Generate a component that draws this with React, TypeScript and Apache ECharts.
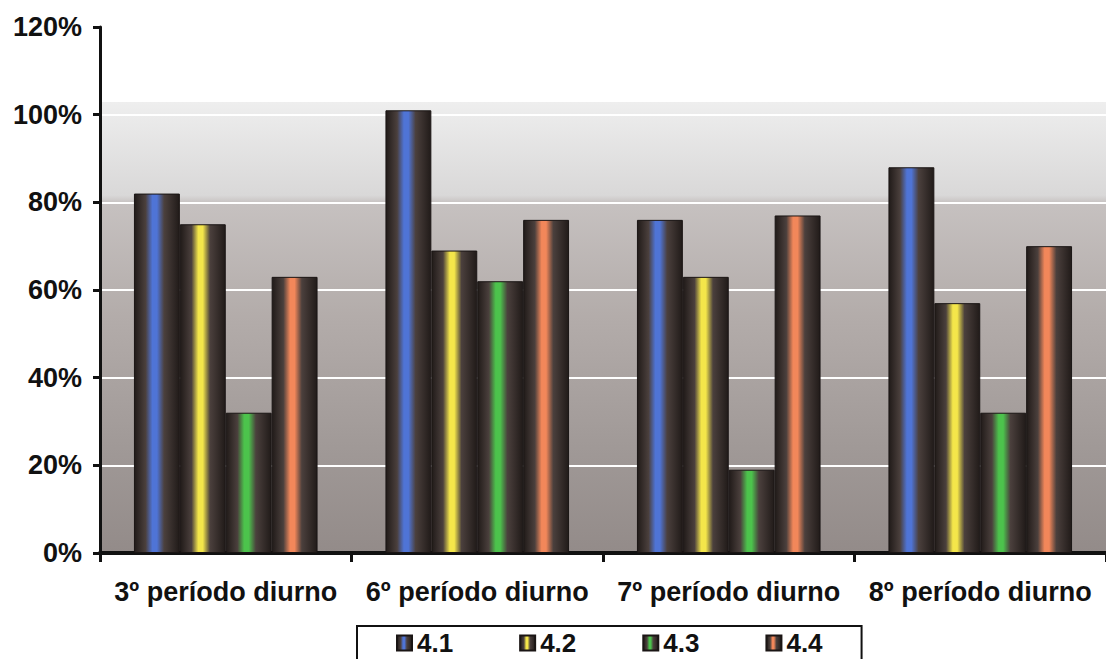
import React, { useEffect, useRef } from "react";
import * as echarts from "echarts";

const categories = ["3º período diurno", "6º período diurno", "7º período diurno", "8º período diurno"];
const seriesNames = ["4.1", "4.2", "4.3", "4.4"];
const values41 = [82, 101, 76, 88];
const values42 = [75, 69, 63, 57];
const values43 = [32, 62, 19, 32];
const values44 = [63, 76, 77, 70];
const centerColors = ["#4f74d6", "#f4e64a", "#4cc34c", "#f2875a"];
const yTicks = [0, 20, 40, 60, 80, 100, 120];

const EDGE = "#211b19";
const MID = "#4b403d";

function cylinder(color: string) {
  return new echarts.graphic.LinearGradient(0, 0, 1, 0, [
    { offset: 0, color: EDGE },
    { offset: 0.25, color: MID },
    { offset: 0.4, color: color },
    { offset: 0.5, color: color },
    { offset: 0.66, color: MID },
    { offset: 1, color: EDGE },
  ]);
}

const FONT = "Liberation Sans, Arial, sans-serif";

export default function App() {
  const ref = useRef<HTMLDivElement>(null);

  useEffect(() => {
    document.body.style.margin = "0";
    const chart = echarts.init(ref.current!, undefined, { renderer: "svg" });
    const data = [values41, values42, values43, values44];
    const yMax = yTicks[yTicks.length - 1];
    const shadeTop = (yMax - 103) / yMax;

    chart.setOption({
      animation: false,
      backgroundColor: "#ffffff",
      textStyle: { fontFamily: FONT },
      grid: {
        left: 100,
        right: -10,
        top: 27,
        bottom: 106,
        show: true,
        borderWidth: 0,
        backgroundColor: new echarts.graphic.LinearGradient(0, 0, 0, 1, [
          { offset: 0, color: "#ffffff" },
          { offset: shadeTop, color: "#ffffff" },
          { offset: shadeTop + 0.001, color: "#eeeeee" },
          { offset: 0.32, color: "#d9d8d8" },
          { offset: 0.335, color: "#c6c1c0" },
          { offset: 0.55, color: "#b3acaa" },
          { offset: 0.8, color: "#a09997" },
          { offset: 1, color: "#938b89" },
        ]),
      },
      legend: {
        data: seriesNames,
        icon: "rect",
        left: 357,
        top: 626,
        orient: "horizontal",
        itemWidth: 15,
        itemHeight: 15,
        itemGap: 66,
        padding: [4, 39, 8, 39],
        borderColor: "#111",
        borderWidth: 2,
        backgroundColor: "#ffffff",
        textStyle: {
          fontSize: 26,
          fontWeight: "bold",
          color: "#111",
          fontFamily: FONT,
        },
      },
      xAxis: {
        type: "category",
        data: categories,
        axisLine: { lineStyle: { color: "#111", width: 4 } },
        axisTick: { show: true, interval: 0, length: 9, lineStyle: { color: "#111", width: 3 } },
        axisLabel: {
          interval: 0,
          margin: 25,
          fontSize: 27,
          fontWeight: "bold",
          color: "#111",
          fontFamily: FONT,
        },
        splitLine: { show: false },
      },
      yAxis: {
        type: "value",
        min: 0,
        max: yMax,
        interval: 20,
        axisLine: { show: true, lineStyle: { color: "#111", width: 3 } },
        axisTick: { show: true, length: 7, lineStyle: { color: "#111", width: 3 } },
        axisLabel: {
          formatter: "{value}%",
          margin: 18,
          fontSize: 27,
          fontWeight: "bold",
          color: "#111",
          fontFamily: FONT,
        },
        splitLine: { show: true, lineStyle: { color: "#ffffff", width: 2 } },
      },
      series: seriesNames.map((name, i) => ({
        name,
        type: "bar",
        data: data[i],
        barGap: "0%",
        barCategoryGap: "27%",
        itemStyle: {
          color: cylinder(centerColors[i]),
          borderColor: "#1a1514",
          borderWidth: 1,
        },
      })),
    });

    return () => chart.dispose();
  }, []);

  return <div ref={ref} style={{ width: 1106, height: 659 }} />;
}
